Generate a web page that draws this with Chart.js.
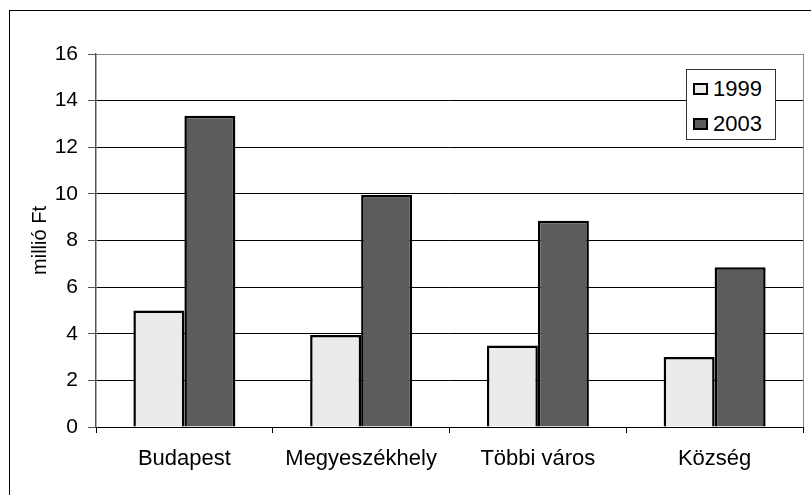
<!DOCTYPE html>
<html>
<head>
<meta charset="utf-8">
<script src="https://cdn.jsdelivr.net/npm/chart.js@4/dist/chart.umd.min.js"></script>
<style>
  html, body { margin: 0; padding: 0; background: #fff; }
  #wrap { position: relative; width: 811px; height: 495px; overflow: hidden; font-family: "Liberation Sans", Arial, sans-serif; }
  #frame { position: absolute; left: 9px; top: 10px; width: 900px; height: 600px; border: 1px solid #000; box-sizing: border-box; }
  #chart { position: absolute; left: 0; top: 0; }
  #legend { position: absolute; left: 686px; top: 69px; width: 90px; height: 71px; box-sizing: border-box;
            border: 1px solid #333; background: #fff; padding: 1px 0 0 6px; }
  .item { display: flex; align-items: center; height: 35px; font-size: 22px; color: #000; }
  .swatch { width: 11px; height: 8px; border: 2.5px solid #000; margin-right: 5px; box-sizing: content-box; }
</style>
</head>
<body>
<div id="wrap">
  <div id="frame"></div>
  <canvas id="chart" width="811" height="495"></canvas>
  <div id="legend"></div>
</div>
<script>
const categories = ['Budapest', 'Megyeszékhely', 'Többi város', 'Község'];
const seriesLabels = ['1999', '2003'];
const values1999 = [5.0, 3.95, 3.5, 3.0];
const values2003 = [13.35, 9.95, 8.85, 6.85];
const yMin = 0;
const yMax = 16;
const yStep = 2;
const axisTitle = 'millió Ft';

const colors = ['#ebebeb', '#5c5c5c'];

const plotFrame = {
    id: 'plotFrame',
    afterDatasetsDraw(chart) {
        const { ctx, chartArea } = chart;
        ctx.save();
        ctx.strokeStyle = '#888';
        ctx.lineWidth = 1;
        ctx.beginPath();
        ctx.moveTo(Math.round(chartArea.right) + 0.5, chartArea.top);
        ctx.lineTo(Math.round(chartArea.right) + 0.5, chartArea.bottom);
        ctx.stroke();
        ctx.restore();
    }
};

const chart = new Chart(document.getElementById('chart'), {
    type: 'bar',
    data: {
        labels: categories,
        datasets: [
            {
                label: seriesLabels[0],
                data: values1999,
                backgroundColor: colors[0],
                borderColor: '#000',
                borderWidth: 2.5,
                barPercentage: 1,
                categoryPercentage: 0.577
            },
            {
                label: seriesLabels[1],
                data: values2003,
                backgroundColor: colors[1],
                borderColor: '#000',
                borderWidth: 2.5,
                barPercentage: 1,
                categoryPercentage: 0.577
            }
        ]
    },
    options: {
        responsive: false,
        animation: false,
        layout: { padding: { top: 54, right: 8, left: 0, bottom: 0 } },
        plugins: {
            legend: { display: false },
            tooltip: { enabled: false }
        },
        scales: {
            x: {
                grid: { drawOnChartArea: false, offset: true, tickLength: 6, color: '#000' },
                border: { color: '#000', width: 1 },
                ticks: {
                    color: '#000',
                    font: { family: 'Liberation Sans', size: 22 },
                    padding: 13,
                    maxRotation: 0
                },
                afterFit: scale => { scale.height = 68; }
            },
            y: {
                min: yMin,
                max: yMax,
                ticks: {
                    stepSize: yStep,
                    color: '#000',
                    font: { family: 'Liberation Sans', size: 21 },
                    padding: 10
                },
                grid: {
                    color: ctx => ctx.tick && ctx.tick.value === yMax ? '#888' : '#000',
                    tickColor: '#555',
                    tickLength: 8
                },
                border: { color: '#555', width: 1.5 },
                title: {
                    display: true,
                    text: axisTitle,
                    color: '#000',
                    font: { family: 'Liberation Sans', size: 20 },
                    padding: { top: 28, bottom: 0 }
                },
                afterFit: scale => { scale.width = 96; }
            }
        }
    },
    plugins: [plotFrame]
});

// legend built from the datasets
const legend = document.getElementById('legend');
chart.data.datasets.forEach(ds => {
    const item = document.createElement('div');
    item.className = 'item';
    const sw = document.createElement('span');
    sw.className = 'swatch';
    sw.style.background = ds.backgroundColor;
    item.appendChild(sw);
    item.appendChild(document.createTextNode(ds.label));
    legend.appendChild(item);
});
</script>
</body>
</html>
